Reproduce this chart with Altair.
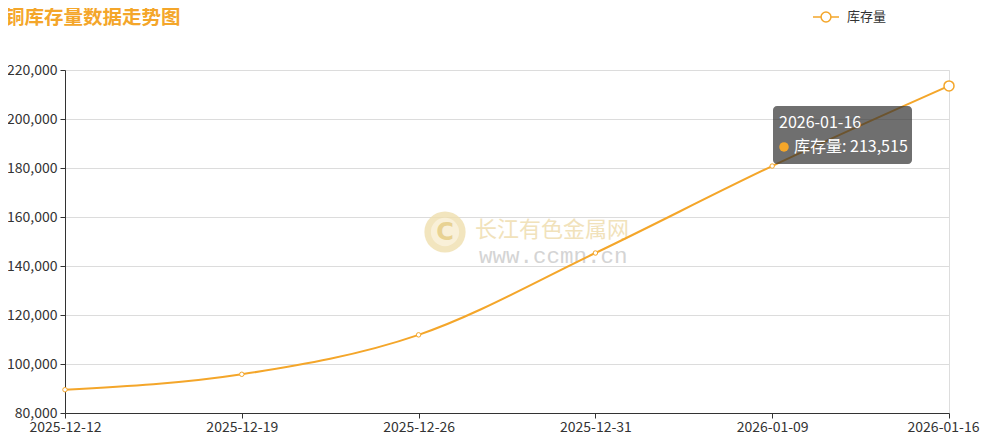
import altair as alt
import pandas as pd

# ---- data ----
dates = ["2025-12-12", "2025-12-19", "2025-12-26", "2025-12-31", "2026-01-09", "2026-01-16"]
values = [89500, 95800, 111900, 145300, 180800, 213515]
series_name = "库存量"
title_text = "铜库存量数据走势图"
y_ticks = [80000, 100000, 120000, 140000, 160000, 180000, 200000, 220000]

ORANGE = "#f4a62a"
FONT = "Noto Sans CJK SC"

df = pd.DataFrame({"date": dates, "value": values, "series": series_name})
last = df.tail(1).copy()
last["head"] = last["date"]
last["label"] = series_name + ": " + f"{values[-1]:,}"
dummy = pd.DataFrame({"k": [0]})

W, H = 884, 343

x_enc = alt.X("date:O", sort=dates,
              scale=alt.Scale(type="point", padding=0),
              axis=alt.Axis(title=None, labelAngle=0, labelFontSize=14, labelColor="#333",
                            labelFont=FONT, domainColor="#333", tickColor="#333", tickSize=5,
                            labelPadding=2, grid=False,
                            labelOffset=alt.expr("datum.index == 1 ? -6 : 0")))
y_enc = alt.Y("value:Q",
              scale=alt.Scale(domain=[80000, 220000], nice=False, zero=False),
              axis=alt.Axis(title=None, values=y_ticks, labelExpr="format(datum.value, ',d')",
                            labelFontSize=14, labelColor="#333", labelFont=FONT,
                            domainColor="#333", tickColor="#333", tickSize=5, labelPadding=3,
                            gridColor="#dcdcdc", gridWidth=1))

# ---- title (text) ----
title = alt.Chart(dummy).mark_text(text=title_text, font=FONT, fontSize=19.5, fontWeight="bold",
                                   color=ORANGE, align="left", baseline="middle").encode(
    x=alt.value(-60), y=alt.value(-52))

# ---- watermark ----
wm_base = alt.Chart(dummy)
wm_outer = wm_base.mark_point(shape="circle", filled=True, size=1700, color="#efdfae", opacity=0.8).encode(
    x=alt.value(380), y=alt.value(162))
wm_inner = wm_base.mark_point(shape="circle", filled=True, size=800, color="#f9f1da", opacity=0.9).encode(
    x=alt.value(380), y=alt.value(162))
wm_c = wm_base.mark_text(text="C", font="DejaVu Sans", fontSize=24, fontWeight="bold",
                         color="#e8d292", baseline="middle", align="center").encode(
    x=alt.value(380), y=alt.value(163))
wm_txt = wm_base.mark_text(text="长江有色金属网", font=FONT, fontSize=22, color="#f1e2bb",
                           baseline="middle", align="left").encode(
    x=alt.value(410), y=alt.value(160))
wm_url = wm_base.mark_text(text="www.ccmn.cn", font="Liberation Mono", fontSize=22.5, color="#d4d4d4",
                           baseline="middle", align="left").encode(
    x=alt.value(414), y=alt.value(186))

# ---- series ----
base = alt.Chart(df)
line = base.mark_line(interpolate="monotone", strokeWidth=2).encode(
    x=x_enc, y=y_enc,
    color=alt.Color("series:N", scale=alt.Scale(range=[ORANGE]),
                    legend=alt.Legend(title=None, orient="none", legendX=747, legendY=-67,
                                      symbolType="M-1,0L-0.38,0M0.38,0A0.38,0.38,0,1,1,-0.38,0A0.38,0.38,0,1,1,0.38,0M0.38,0L1,0",
                                      symbolSize=676, symbolStrokeWidth=1.5, symbolFillColor="white",
                                      labelFontSize=13, labelColor="#333", labelFont=FONT,
                                      labelOffset=7, padding=0)))
pts = base.mark_point(shape="circle", filled=True, fill="white", stroke=ORANGE, strokeWidth=1,
                      size=20, opacity=1).encode(x=x_enc, y=y_enc)

lb = alt.Chart(last)
big = lb.mark_point(shape="circle", filled=True, fill="white", stroke=ORANGE, strokeWidth=1.5,
                    size=100, opacity=1).encode(x=x_enc, y=y_enc)

# ---- tooltip (anchored to last point) ----
tip_box = lb.mark_rect(xOffset=-176, x2Offset=-37, yOffset=20, y2Offset=78, cornerRadius=4,
                       color="#323232", opacity=0.7).encode(
    x=x_enc, x2="date:O", y=y_enc, y2="value:Q")
tip_head = lb.mark_text(align="left", baseline="middle", dx=-170, dy=37, fontSize=16,
                        color="white", font=FONT).encode(x=x_enc, y=y_enc, text="head:N")
tip_dot = lb.mark_point(shape="circle", filled=True, color=ORANGE, size=90, opacity=1,
                        xOffset=-165, yOffset=61).encode(x=x_enc, y=y_enc)
tip_lab = lb.mark_text(align="left", baseline="middle", dx=-155, dy=61, fontSize=16,
                       color="white", font=FONT).encode(x=x_enc, y=y_enc, text="label:N")

chart = alt.layer(
    title, wm_outer, wm_inner, wm_c, wm_txt, wm_url,
    line, pts, big, tip_box, tip_head, tip_dot, tip_lab
).properties(
    width=W, height=H,
    autosize=alt.AutoSizeParams(type="none"),
    padding={"left": 57, "top": 62, "right": 31, "bottom": 24},
).configure_view(stroke="#cccccc").configure(background="white")

chart.save("out.html", embed_options={"renderer": "svg", "actions": False})
